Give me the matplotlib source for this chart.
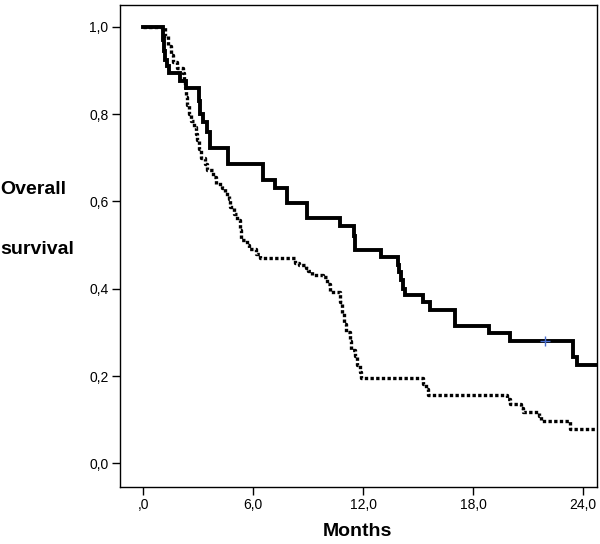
import matplotlib
matplotlib.use("Agg")
import matplotlib.pyplot as plt

# ---- data (months, survival) ----
solid_times = [0, 1.05, 1.12, 1.2, 1.3, 1.4, 2.0, 2.35, 3.05, 3.1, 3.27, 3.5, 3.64,
               4.64, 6.51, 6.55, 7.18, 7.82, 8.91, 10.73, 11.5, 11.55, 12.95, 13.9,
               13.95, 14.05, 14.15, 14.28, 15.28, 15.64, 17.0, 18.88, 20.0, 23.46, 23.64]
solid_surv = [1.0, 0.97, 0.945, 0.925, 0.91, 0.895, 0.875, 0.86, 0.83, 0.80, 0.782, 0.76, 0.7215,
              0.685, 0.665, 0.649, 0.63, 0.5955, 0.561, 0.5435, 0.52, 0.4885, 0.473, 0.455,
              0.439, 0.42, 0.40, 0.385, 0.370, 0.351, 0.3145, 0.298, 0.280, 0.244, 0.225]
solid_end = 24.75
solid_censor_t = [21.9]
solid_censor_s = [0.28]

dotted_times = [0, 1.2, 1.35, 1.5, 1.6, 1.85, 2.15, 2.2, 2.3, 2.35, 2.4, 2.5, 2.6, 2.75, 2.85,
                2.95, 3.05, 3.15, 3.35, 3.45, 3.8, 3.95, 4.3, 4.45, 4.65, 4.75, 4.95, 5.1,
                5.25, 5.35, 5.65, 5.75, 6.15, 6.35, 8.3, 8.5, 8.85, 9.0, 9.2, 9.8, 10.0,
                10.2, 10.75, 10.85, 10.95, 11.05, 11.3, 11.35, 11.55, 11.65, 11.8, 11.9,
                15.25, 15.4, 15.55, 19.85, 20.0, 20.6, 20.7, 21.6, 21.7, 23.25]
dotted_surv = [1.0, 0.98, 0.955, 0.935, 0.92, 0.905, 0.895, 0.88, 0.863, 0.84, 0.82, 0.80, 0.785,
               0.77, 0.755, 0.74, 0.72, 0.70, 0.685, 0.672, 0.655, 0.641, 0.63, 0.618, 0.605,
               0.588, 0.572, 0.557, 0.535, 0.511, 0.50, 0.492, 0.48, 0.4695, 0.46, 0.454,
               0.4466, 0.44, 0.431, 0.427, 0.41, 0.393, 0.37, 0.345, 0.32, 0.30, 0.28, 0.26,
               0.245, 0.225, 0.21, 0.196, 0.183, 0.17, 0.156, 0.147, 0.137, 0.128, 0.118,
               0.108, 0.098, 0.078]
dotted_end = 24.75

x_ticks = [0, 6, 12, 18, 24]
x_tick_labels = [",0", "6,0", "12,0", "18,0", "24,0"]
y_ticks = [0.0, 0.2, 0.4, 0.6, 0.8, 1.0]
y_tick_labels = ["0,0", "0,2", "0,4", "0,6", "0,8", "1,0"]

plt.rcParams['font.family'] = ['Liberation Sans', 'DejaVu Sans']

fig = plt.figure(figsize=(6.0, 5.44), dpi=100)
ax = fig.add_axes([119.5 / 600, 1 - 487 / 544, (597 - 119.5) / 600, (487 - 5) / 544])

ax.step(solid_times + [solid_end], solid_surv + [solid_surv[-1]], where='post',
        color='black', lw=2.8, solid_joinstyle='miter')
ax.step(dotted_times + [dotted_end], dotted_surv + [dotted_surv[-1]], where='post',
        color='black', lw=2.4, linestyle=(0, (1, 0.7)), dash_capstyle='butt')
ax.plot(solid_censor_t, solid_censor_s, marker='+', color='#4a6fd0', ms=7, mew=1,
        linestyle='none')

ax.set_xlim(-1.3, 24.75)
ax.set_ylim(-0.054, 1.05)
ax.set_xticks(x_ticks)
ax.set_xticklabels(x_tick_labels)
ax.set_yticks(y_ticks)
ax.set_yticklabels(y_tick_labels)
ax.tick_params(direction='out', length=6, width=1, labelsize=10, colors='black', pad=2)
for s in ax.spines.values():
    s.set_linewidth(1)
    s.set_color('black')

fig.text(357 / 600, 1 - 532 / 544, "Months", ha='center', va='center',
         fontsize=14, fontweight='bold')
fig.text(0.0, 1 - 190 / 544, "Overall", ha='left', va='center',
         fontsize=14, fontweight='bold')
fig.text(0.0, 1 - 249 / 544, "survival", ha='left', va='center',
         fontsize=14, fontweight='bold')

fig.savefig("out.png", dpi=100)
